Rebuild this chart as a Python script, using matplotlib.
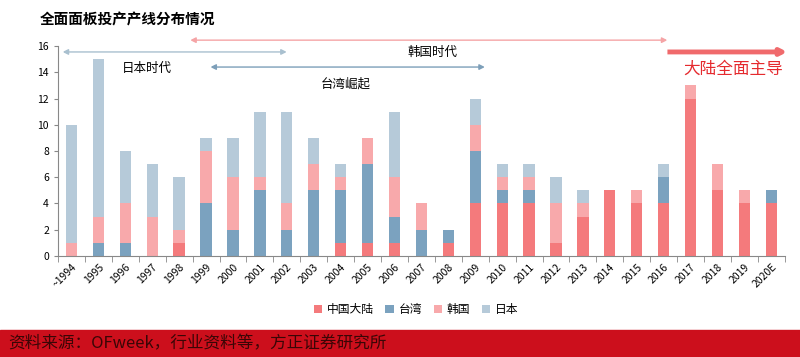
import numpy as np
import matplotlib
matplotlib.use("Agg")
import matplotlib.pyplot as plt
from matplotlib.patches import Rectangle

plt.rcParams['font.family'] = ['Noto Sans CJK SC', 'DejaVu Sans']

years = ['~1994', '1995', '1996', '1997', '1998', '1999', '2000', '2001', '2002',
         '2003', '2004', '2005', '2006', '2007', '2008', '2009', '2010', '2011',
         '2012', '2013', '2014', '2015', '2016', '2017', '2018', '2019', '2020E']
mainland = [0, 0, 0, 0, 1, 0, 0, 0, 0, 0, 1, 1, 1, 0, 1, 4, 4, 4, 1, 3, 5, 4, 4, 12, 5, 4, 4]
taiwan = [0, 1, 1, 0, 0, 4, 2, 5, 2, 5, 4, 6, 2, 2, 1, 4, 1, 1, 0, 0, 0, 0, 2, 0, 0, 0, 1]
korea = [1, 2, 3, 3, 1, 4, 4, 1, 2, 2, 1, 2, 3, 2, 0, 2, 1, 1, 3, 1, 0, 1, 0, 1, 2, 1, 0]
japan = [9, 12, 4, 4, 4, 1, 3, 5, 7, 2, 1, 0, 5, 0, 0, 2, 1, 1, 2, 1, 0, 0, 1, 0, 0, 0, 0]

series = [('中国大陆', mainland, '#f47a7c'),
          ('台湾', taiwan, '#7ba2bf'),
          ('韩国', korea, '#f8a9ab'),
          ('日本', japan, '#b6cad9')]

fig = plt.figure(figsize=(8, 3.57), dpi=100)
ax = fig.add_axes([0.0725, 0.283, 0.9085, 0.588])

x = np.arange(len(years))
bottom = np.zeros(len(years))
for name, vals, col in series:
    ax.bar(x, vals, 0.42, bottom=bottom, color=col, label=name)
    bottom += np.array(vals)

ax.set_xlim(-0.5, len(years) - 0.5)
ax.set_ylim(0, 16)
ax.set_yticks(range(0, 17, 2))
ax.tick_params(axis='y', labelsize=7.5, length=3, color='#888888')
ax.set_xticks(x)
ax.set_xticklabels(years, rotation=45, ha='right', rotation_mode='anchor', fontsize=7.5)
ax.tick_params(axis='x', length=0, pad=4)
ax.set_xticks(np.arange(-0.5, len(years)), minor=True)
ax.tick_params(axis='x', which='minor', length=4, color='#888888')
for s in ['top', 'right']:
    ax.spines[s].set_visible(False)
ax.spines['left'].set_color('#888888')
ax.spines['bottom'].set_color('#888888')

# era arrows
def era(x0, x1, y, col, lw=1.0, style='<|-|>', ms=8):
    ax.annotate('', xy=(x1, y), xytext=(x0, y), annotation_clip=False,
                arrowprops=dict(arrowstyle=style, color=col, lw=lw,
                                mutation_scale=ms, shrinkA=0, shrinkB=0,
                                capstyle='butt'))

era(-0.33, 8.0, 15.55, '#a9c0cf')
era(4.41, 22.14, 16.45, '#f5a4a6')
era(5.16, 15.36, 14.4, '#7d9fb9')
era(22.14, 26.6, 15.55, '#f06a6c', lw=3.5, style='-|>', ms=9)

ax.text(2.8, 14.3, '日本时代', fontsize=9, ha='center', va='center')
ax.text(13.4, 15.5, '韩国时代', fontsize=9, ha='center', va='center')
ax.text(10.2, 13.1, '台湾崛起', fontsize=9, ha='center', va='center')
ax.text(24.6, 14.2, '大陆全面主导', fontsize=12, color='#e52a2e', ha='center', va='center')

fig.text(0.05, 0.945, '全面面板投产产线分布情况', fontsize=10.5, fontweight='bold', va='center')

fig.legend(loc='center', bbox_to_anchor=(0.52, 0.132), ncol=4, frameon=False,
           fontsize=8.5, handlelength=0.7, handleheight=0.7, columnspacing=1.0,
           handletextpad=0.4)

fig.patches.append(Rectangle((0, 0), 1, 0.076, transform=fig.transFigure,
                             color='#cc0f1c', zorder=0))
fig.text(0.01, 0.038, '资料来源：OFweek，行业资料等，方正证券研究所', fontsize=12,
         color='#3a0606', va='center')

fig.savefig('out.png', dpi=100)
